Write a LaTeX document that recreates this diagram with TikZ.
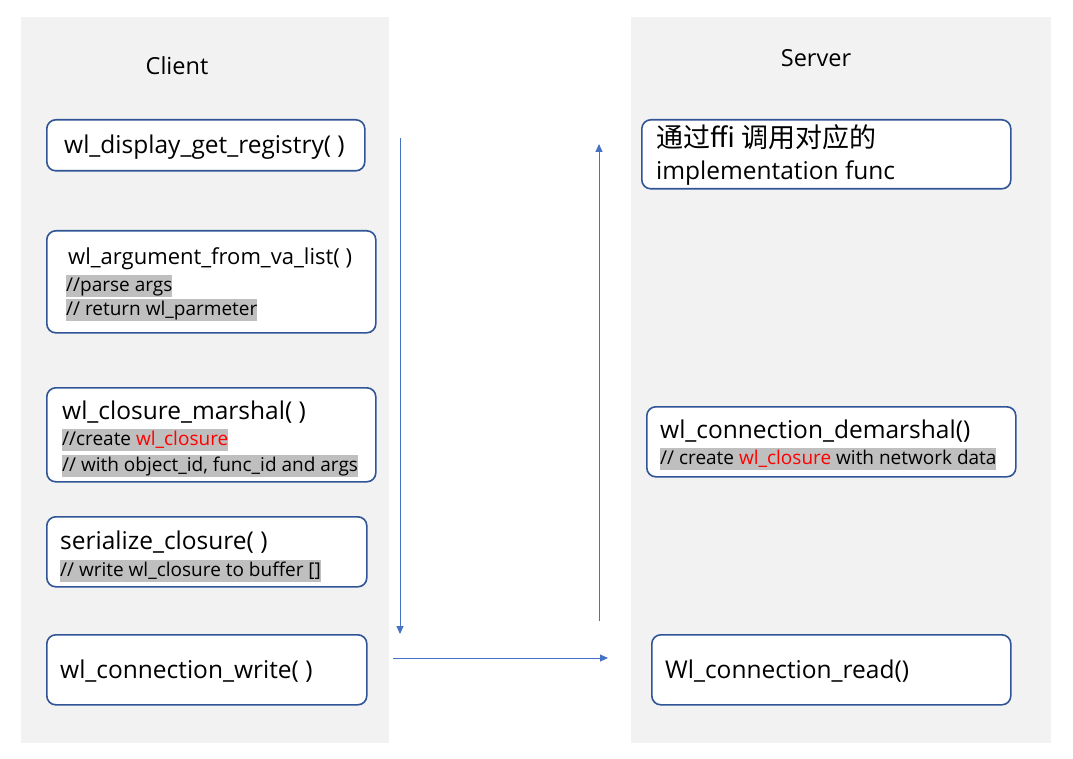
\documentclass[tikz,border=0pt]{standalone}
\usepackage{fontspec}
\setmainfont{Open Sans}
\newfontfamily\cjk{Noto Sans CJK SC}
\usetikzlibrary{arrows.meta}
\definecolor{panelgray}{HTML}{F2F2F2}
\definecolor{boxblue}{HTML}{2F5597}
\definecolor{flowblue}{HTML}{4472C4}
\definecolor{hlgray}{HTML}{BFBFBF}
\tikzset{
	funcbox/.style={draw=boxblue, line width=1.6pt, fill=white, rounded corners=9pt, anchor=north west, inner sep=0pt},
	side/.style={font=\fontsize{23.5}{27}\selectfont},
	fname/.style={anchor=base west, inner sep=0pt, font=\fontsize{24.5}{28}\selectfont},
	cmt/.style={anchor=base west, fill=hlgray, inner sep=0pt, text height=16pt, text depth=5.5pt, font=\fontsize{19}{22}\selectfont},
	flow/.style={draw=flowblue, line width=1pt, -{Triangle[width=7pt, length=8pt]}},
}
\begin{document}
\begin{tikzpicture}[x=1pt, y=-1pt, line join=round]
		\useasboundingbox (0, 0) rectangle (1073, 759);
		% panels
		\fill[panelgray] (21, 17) rectangle (389, 743);
		\fill[panelgray] (631, 17) rectangle (1051, 743);
		\node[side] (client) at (177, 66) {Client};
		\node[side] (server) at (816, 58) {Server};
		% Client
		\begin{scope}
			\node[funcbox, minimum width=318pt, minimum height=51pt] (reg) at (46, 119) {};
			\node[fname] (reg t) at (64, 154) {wl\_display\_get\_registry( )};
			\node[funcbox, minimum width=329pt, minimum height=102pt] (arg) at (46, 230) {};
			\node[fname, font=\fontsize{22}{26}\selectfont] (arg t) at (68, 265) {wl\_argument\_from\_va\_list( )};
			\node[cmt] (arg c1) at (66, 291) {//parse args};
			\node[cmt] (arg c2) at (66, 315) {// return wl\_parmeter};
			\node[funcbox, minimum width=329pt, minimum height=94pt] (mar) at (46, 387) {};
			\node[fname] (mar t) at (62, 419) {wl\_closure\_marshal( )};
			\node[cmt] (mar c1) at (62, 445) {//create \textcolor{red}{wl\_closure}};
			\node[cmt] (mar c2) at (62, 471) {// with object\_id, func\_id and args};
			\node[funcbox, minimum width=320pt, minimum height=70pt] (ser) at (46, 516) {};
			\node[fname] (ser t) at (60, 549) {serialize\_closure( )};
			\node[cmt] (ser c) at (60, 576) {// write wl\_closure to buffer []};
			\node[funcbox, minimum width=320pt, minimum height=70pt] (wri) at (46, 634) {};
			\node[fname] (wri t) at (60, 678) {wl\_connection\_write( )};
		\end{scope}
		% Server
		\begin{scope}
			\node[funcbox, minimum width=369pt, minimum height=69pt] (ffi) at (641, 119) {};
			\node[fname, font=\cjk\fontsize{27}{30}\selectfont] (ffi t1) at (656, 148) {通过ffi 调用对应的};
			\node[fname] (ffi t2) at (656, 180) {implementation func};
			\node[funcbox, minimum width=369pt, minimum height=70pt] (dem) at (646, 406) {};
			\node[fname] (dem t) at (660, 438) {wl\_connection\_demarshal()};
			\node[cmt] (dem c) at (660, 464) {// create \textcolor{red}{wl\_closure} with network data};
			\node[funcbox, minimum width=359pt, minimum height=70pt] (rea) at (651, 634) {};
			\node[fname] (rea t) at (665, 678) {Wl\_connection\_read()};
		\end{scope}
		% flow
		\coordinate (down s) at (400, 138);
		\coordinate (down e) at (400, 634);
		\coordinate (send s) at (393, 658);
		\coordinate (send e) at (608, 658);
		\coordinate (up s) at (599, 621);
		\coordinate (up e) at (599, 144);
		\draw[flow] (down s) -- (down e);
		\draw[flow] (send s) -- (send e);
		\draw[flow] (up s) -- (up e);
	\end{tikzpicture}
\end{document}
